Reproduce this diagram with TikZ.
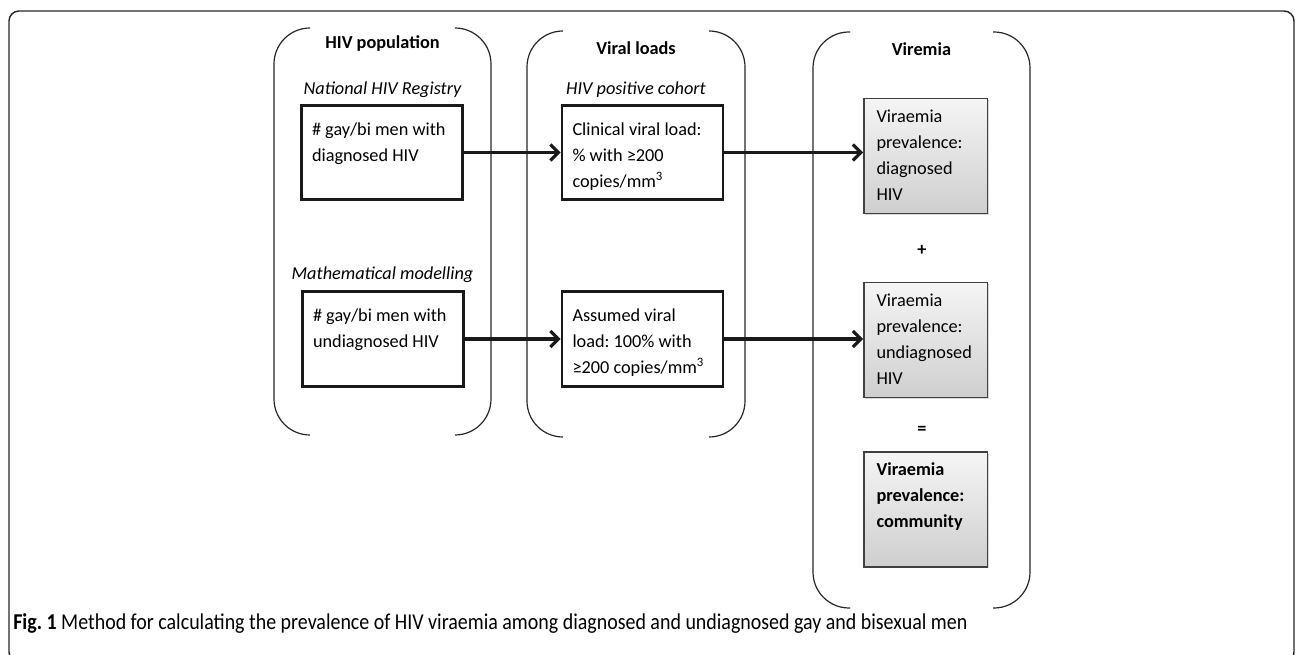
\documentclass[tikz,border=0pt]{standalone}
\usepackage{fontspec}
\setmainfont{Carlito}
\newfontfamily\capfamily[FakeStretch=0.88]{Carlito}
\usetikzlibrary{arrows.meta}
\usetikzlibrary{shadows}
\frenchspacing
\newcommand{\boxfont}{\fontsize{13.7pt}{19.5pt}\selectfont}
\newcommand{\capfont}{\capfamily\fontsize{17pt}{20pt}\selectfont}
\tikzset{>=latex}
\tikzset{
    panel/.style={line width=0.9pt, black!85, rounded corners=27pt},
    head/.style={font=\boxfont\bfseries, anchor=base, inner sep=0pt},
    src/.style={font=\boxfont\itshape, anchor=base, inner sep=0pt},
    wbox/.style={draw=black!90, line width=2.2pt, fill=white, align=flush left,
        text width=105pt, minimum width=120.75pt, minimum height=71pt,
        inner xsep=0pt, inner ysep=0pt, font=\boxfont,
        execute at begin node=\rule{0pt}{18.75pt},
        execute at end node=\strut,
        drop shadow={shadow xshift=1pt, shadow yshift=-1pt, opacity=0.2}},
    gbox/.style={draw=black!75, line width=1.1pt, top color=black!4, bottom color=black!19,
        align=flush left, text width=73.5pt, minimum width=92.6pt, minimum height=86pt,
        inner xsep=0pt, inner ysep=0pt, font=\boxfont,
        execute at begin node=\strut,
        execute at end node=\strut,
        drop shadow={shadow xshift=1.2pt, shadow yshift=-1.2pt, opacity=0.3}},
    arr/.style={line width=2.3pt, black!90, -{Straight Barb[length=6pt, width=12pt]}},
}

\begin{document}
\begin{tikzpicture}[x=0.75pt, y=-0.75pt]
    \useasboundingbox (0, 0) rectangle (1296, 655);
    \clip (0, 0) rectangle (1296, 655);
    \draw[line width=1.1pt, black!85, rounded corners=7.5pt] (9, 11) rectangle (1294, 662);

    % HIV population
    \begin{scope}
        \draw[panel] (310, 28) -- (274, 28) -- (274, 435) -- (310, 435);
        \draw[panel] (455, 28) -- (491, 28) -- (491, 435) -- (455, 435);
        \node[head] (hpop) at (382.5, 49) {HIV population};
        \node[src] (reg) at (382.5, 95) {National HIV Registry};
        \node[wbox] (a1) at (382, 152.5) {\# gay/bi men with\\ diagnosed HIV\\ \strut};
        \node[src] (model) at (382.5, 280) {Mathematical modelling};
        \node[wbox] (a2) at (383, 339) {\# gay/bi men with\\ undiagnosed HIV\\ \strut};
    \end{scope}

    % Viral loads
    \begin{scope}
        \draw[panel] (563, 31) -- (527, 31) -- (527, 437) -- (563, 437);
        \draw[panel] (709, 31) -- (745, 31) -- (745, 437) -- (709, 437);
        \node[head] (vload) at (636, 55) {Viral loads};
        \node[src] (cohort) at (636, 95) {HIV positive cohort};
        \node[wbox] (b1) at (642.5, 152.5) {Clinical viral load:\\ \% with ≥200\\ copies/mm\textsuperscript{3}};
        \node[wbox] (b2) at (642.5, 339) {Assumed viral\\ load: 100\% with\\ ≥200 copies/mm\textsuperscript{3}};
    \end{scope}

    % Viremia
    \begin{scope}
        \draw[panel] (850, 32) -- (813, 32) -- (813, 608) -- (850, 608);
        \draw[panel] (993, 32) -- (1030, 32) -- (1030, 608) -- (993, 608);
        \node[head] (virem) at (921.5, 56) {Viremia};
        \node[gbox] (c1) at (925.5, 156) {Viraemia\\ prevalence:\\ diagnosed\\ HIV};
        \node[font=\boxfont\bfseries] (plus) at (922, 250) {+};
        \node[gbox] (c2) at (925.5, 340) {Viraemia\\ prevalence:\\ undiagnosed\\ HIV};
        \node[font=\boxfont\bfseries] (eq) at (922, 430) {=};
        \node[gbox, font=\boxfont\bfseries] (c3) at (925.5, 509.5) {Viraemia\\ prevalence:\\ community\\ \strut};
    \end{scope}

    \draw[arr] (a1.east) -- (b1.west);
    \draw[arr] (b1.east) -- (b1.east -| c1.west);
    \draw[arr] (a2.east) -- (a2.east -| b2.west);
    \draw[arr] (b2.east) -- (b2.east -| c2.west);

    \node[font=\capfont, anchor=base west, inner sep=0pt] (cap) at (13, 629)
        {\textbf{Fig. 1} Method for calculating the prevalence of HIV viraemia among diagnosed and undiagnosed gay and bisexual men};
\end{tikzpicture}
\end{document}
